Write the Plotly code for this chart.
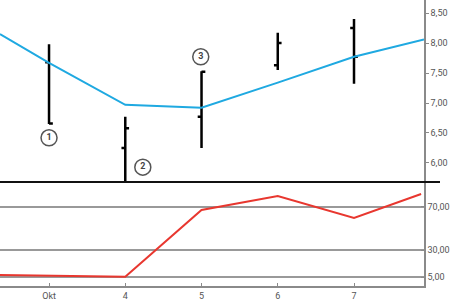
import plotly.graph_objects as go

# ---- data ----
days = [3, 4, 5, 6, 7]
tick_labels = ["Okt", "4", "5", "6", "7"]

bar_open = [7.68, 6.25, 6.77, 7.63, 8.25]
bar_high = [7.98, 6.77, 7.53, 8.17, 8.40]
bar_low = [6.65, 5.70, 6.25, 7.55, 7.32]
bar_close = [6.66, 6.58, 7.52, 8.00, 7.77]

ma_x = [2.357, 3, 4, 5, 6, 7, 7.918]
ma_y = [8.15, 7.67, 6.97, 6.92, 7.34, 7.77, 8.06]

ind_x = [2.357, 4, 5, 6, 7, 7.88]
ind_y = [6.9, 5.2, 67.2, 80.2, 59.8, 82.0]

note_x = [3, 4.23, 4.99]
note_y = [6.42, 5.93, 7.77]
note_text = ["<b>1</b>", "<b>2</b>", "<b>3</b>"]

top_ticks = [6.0, 6.5, 7.0, 7.5, 8.0, 8.5]
bot_ticks = [5, 30, 70]

font = "Roboto, sans-serif"
grey = "#8a8a8a"
tick_font = dict(family=font, size=9, color="#555")

fig = go.Figure()

fig.add_trace(go.Scatter(x=ma_x, y=ma_y, mode="lines",
                         line=dict(color="#1fa9e1", width=2),
                         xaxis="x", yaxis="y", hoverinfo="skip"))

fig.add_trace(go.Ohlc(x=days, open=bar_open, high=bar_high, low=bar_low,
                      close=bar_close, tickwidth=0.05,
                      increasing=dict(line=dict(color="black", width=2.5)),
                      decreasing=dict(line=dict(color="black", width=2.5)),
                      xaxis="x", yaxis="y"))

fig.add_trace(go.Scatter(x=note_x, y=note_y, mode="markers+text",
                         text=note_text, textposition="middle center",
                         textfont=dict(family=font, size=9, color="#444"),
                         marker=dict(symbol="circle", size=16, color="white",
                                     line=dict(color="#555", width=1.5)),
                         xaxis="x", yaxis="y", hoverinfo="skip"))

fig.add_trace(go.Scatter(x=ind_x, y=ind_y, mode="lines",
                         line=dict(color="#e8372f", width=2),
                         xaxis="x", yaxis="y2", hoverinfo="skip"))

split = (286 - 182) / 286

fig.update_layout(
    width=450, height=300,
    margin=dict(l=0, r=26, t=0, b=14, autoexpand=False),
    paper_bgcolor="white", plot_bgcolor="white",
    showlegend=False,
    separators=",.",
    font=dict(family=font, size=9, color="#555"),
    xaxis=dict(range=[2.357, 7.918], anchor="y2", tickvals=days,
               ticktext=tick_labels, showgrid=False, zeroline=False,
               showline=True, linecolor=grey, linewidth=1.5,
               ticks="inside", ticklen=3, tickcolor=grey,
               automargin=False,
               rangeslider=dict(visible=False),
               tickfont=tick_font),
    yaxis=dict(domain=[split, 1], range=[5.683, 8.717], side="right",
               anchor="x", tickvals=top_ticks, tickformat=".2f",
               showgrid=False, zeroline=False, showline=True,
               linecolor=grey, linewidth=1.5, ticks="outside", ticklen=3,
               tickcolor=grey, automargin=False,
               tickfont=tick_font),
    yaxis2=dict(domain=[0, split], range=[-3.36, 93.2], side="right",
                anchor="x", tickvals=bot_ticks, tickformat=".2f",
                showgrid=True, gridcolor="#999", gridwidth=1.5,
                zeroline=False, showline=True, linecolor=grey, linewidth=1.5,
                ticks="inside", ticklen=3, tickcolor=grey, automargin=False,
                tickfont=tick_font),
    shapes=[dict(type="line", xref="paper", yref="paper",
                 x0=0, x1=440 / 424, y0=split, y1=split,
                 line=dict(color="#111", width=2))],
)

fig.write_html("out.html")
